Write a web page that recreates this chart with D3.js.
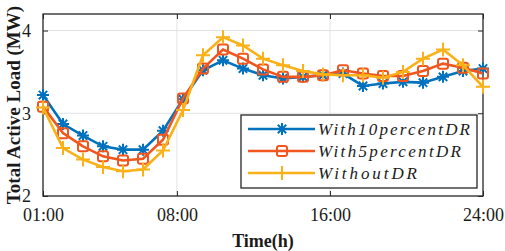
<!doctype html>
<html>
  <head>
    <script src="https://cdnjs.cloudflare.com/ajax/libs/d3/7.8.5/d3.min.js"></script>
    <style>
      body { margin: 0; background: #fff; }
      svg { display: block; }
    </style>
  </head>
  <body>
    <svg style="height: 251px; width: 505px;"></svg>
    <script>
        // values, 23 samples between 01:00 and 24:00
        var with10 = [3.22, 2.87, 2.73, 2.60, 2.56, 2.56, 2.79, 3.17, 3.52, 3.64, 3.54, 3.46,
                      3.42, 3.44, 3.46, 3.48, 3.33, 3.36, 3.38, 3.37, 3.44, 3.51, 3.54];
        var with5 = [3.08, 2.76, 2.60, 2.48, 2.43, 2.45, 2.68, 3.18, 3.54, 3.77, 3.66, 3.53,
                     3.44, 3.44, 3.46, 3.52, 3.48, 3.45, 3.45, 3.51, 3.60, 3.55, 3.48];
        var withoutDR = [3.07, 2.58, 2.44, 2.35, 2.30, 2.32, 2.55, 3.04, 3.70, 3.92, 3.82, 3.66,
                         3.58, 3.51, 3.47, 3.46, 3.46, 3.43, 3.50, 3.66, 3.77, 3.58, 3.32];
        var seriesNames = ["With10percentDR", "With5percentDR", "WithoutDR"];
        var xTicks = [1, 8, 16, 24];
        var xTickLabels = ["01:00", "08:00", "16:00", "24:00"];
        var yTicks = [2, 3, 4];

        var colors = ["#0072BD", "#F0561D", "#F9B117"];
        var markers = ["star", "square", "plus"];

        var L = 43, R = 483, T = 14, B = 196;
        var svg = d3.select("svg");

        var xAxisScale = d3.scaleLinear().domain([1, 24]).range([L, R]);
        var xScale = d3.scalePoint().domain(d3.range(with10.length)).range([L, R]);
        var yScale = d3.scaleLinear().domain([2, 4.2]).range([B, T]);

        // grid
        svg.append("g").selectAll("line").data(xTicks.slice(1, 3)).enter().append("line")
            .attr("x1", d => xAxisScale(d)).attr("x2", d => xAxisScale(d))
            .attr("y1", T).attr("y2", B)
            .style("stroke", "#e3e3e3").style("stroke-width", "1px");
        svg.append("g").selectAll("line").data(yTicks.slice(1)).enter().append("line")
            .attr("x1", L).attr("x2", R)
            .attr("y1", d => yScale(d)).attr("y2", d => yScale(d))
            .style("stroke", "#e3e3e3").style("stroke-width", "1px");

        // axes
        var font = "'Liberation Serif', 'Times New Roman', serif";
        var xAxis = d3.axisBottom(xAxisScale).tickValues(xTicks)
            .tickFormat((d, i) => xTickLabels[i]).tickSizeInner(-5).tickSizeOuter(0).tickPadding(12);
        var xAxisTop = d3.axisTop(xAxisScale).tickValues(xTicks)
            .tickFormat("").tickSizeInner(-5).tickSizeOuter(0);
        var yAxis = d3.axisLeft(yScale).tickValues(yTicks).tickFormat(d3.format("d"))
            .tickSizeInner(-5).tickSizeOuter(0).tickPadding(12);
        var yAxisRight = d3.axisRight(yScale).tickValues(yTicks)
            .tickFormat("").tickSizeInner(-5).tickSizeOuter(0);

        var gx = svg.append("g").attr("transform", "translate(0," + B + ")").call(xAxis);
        var gxt = svg.append("g").attr("transform", "translate(0," + T + ")").call(xAxisTop);
        var gy = svg.append("g").attr("transform", "translate(" + L + ",0)").call(yAxis);
        var gyr = svg.append("g").attr("transform", "translate(" + R + ",0)").call(yAxisRight);

        [gx, gxt, gy, gyr].forEach(g => {
            g.select(".domain").remove();
            g.selectAll("line").style("stroke", "#262626").style("stroke-width", "1px");
            g.selectAll("text").style("font-family", font).style("font-size", "18px").style("fill", "#1a1a1a");
        });

        svg.append("rect").attr("x", L).attr("y", T).attr("width", R - L).attr("height", B - T)
            .style("fill", "none").style("stroke", "#262626").style("stroke-width", "1.3px");

        // lines + markers
        function drawMarker(g, type, x, y, color) {
            if (type === "star") {
                var s = 6;
                g.append("path")
                    .attr("d", "M" + (x - s) + "," + y + "H" + (x + s) + "M" + x + "," + (y - s) + "V" + (y + s) +
                        "M" + (x - s * 0.7) + "," + (y - s * 0.7) + "L" + (x + s * 0.7) + "," + (y + s * 0.7) +
                        "M" + (x - s * 0.7) + "," + (y + s * 0.7) + "L" + (x + s * 0.7) + "," + (y - s * 0.7))
                    .style("stroke", color).style("stroke-width", "2px").style("fill", "none");
            } else if (type === "square") {
                g.append("rect").attr("x", x - 5).attr("y", y - 5).attr("width", 10).attr("height", 10)
                    .attr("rx", 2)
                    .style("stroke", color).style("stroke-width", "2px").style("fill", "none");
            } else {
                var p = 7;
                g.append("path")
                    .attr("d", "M" + (x - p) + "," + y + "H" + (x + p) + "M" + x + "," + (y - p) + "V" + (y + p))
                    .style("stroke", color).style("stroke-width", "2px").style("fill", "none");
            }
        }

        var allSeries = [with10, with5, withoutDR];
        var line = d3.line().x((d, i) => xScale(i)).y(d => yScale(d));

        allSeries.forEach((vals, k) => {
            var g = svg.append("g");
            g.append("path").attr("d", line(vals))
                .style("fill", "none").style("stroke", colors[k]).style("stroke-width", "2.6px");
            vals.forEach((v, i) => drawMarker(g, markers[k], xScale(i), yScale(v), colors[k]));
        });

        // legend
        var lg = svg.append("g");
        lg.append("rect").attr("x", 241).attr("y", 115).attr("width", 236).attr("height", 73)
            .style("fill", "#fff").style("stroke", "#262626").style("stroke-width", "1.3px");
        var textLens = [152, 143, 99];
        seriesNames.forEach((name, k) => {
            var yy = 129 + k * 22;
            lg.append("line").attr("x1", 248).attr("x2", 315).attr("y1", yy).attr("y2", yy)
                .style("stroke", colors[k]).style("stroke-width", "2.6px");
            drawMarker(lg, markers[k], 282, yy, colors[k]);
            lg.append("text").attr("x", 318).attr("y", yy + 5.5)
                .attr("textLength", textLens[k]).attr("lengthAdjust", "spacing")
                .style("font-family", font).style("font-style", "italic").style("font-size", "17px")
                .style("fill", "#1a1a1a").text(name);
        });

        // axis titles
        svg.append("text").attr("x", 263).attr("y", 247).attr("text-anchor", "middle")
            .style("font-family", font).style("font-weight", "bold").style("font-size", "18px")
            .style("fill", "#1a1a1a").text("Time(h)");
        svg.append("text").attr("transform", "translate(20,105) rotate(-90)").attr("text-anchor", "middle")
            .style("font-family", font).style("font-weight", "bold").style("font-size", "19px")
            .style("fill", "#1a1a1a").text("Total Active Load (MW)");
    </script>
  </body>
</html>
